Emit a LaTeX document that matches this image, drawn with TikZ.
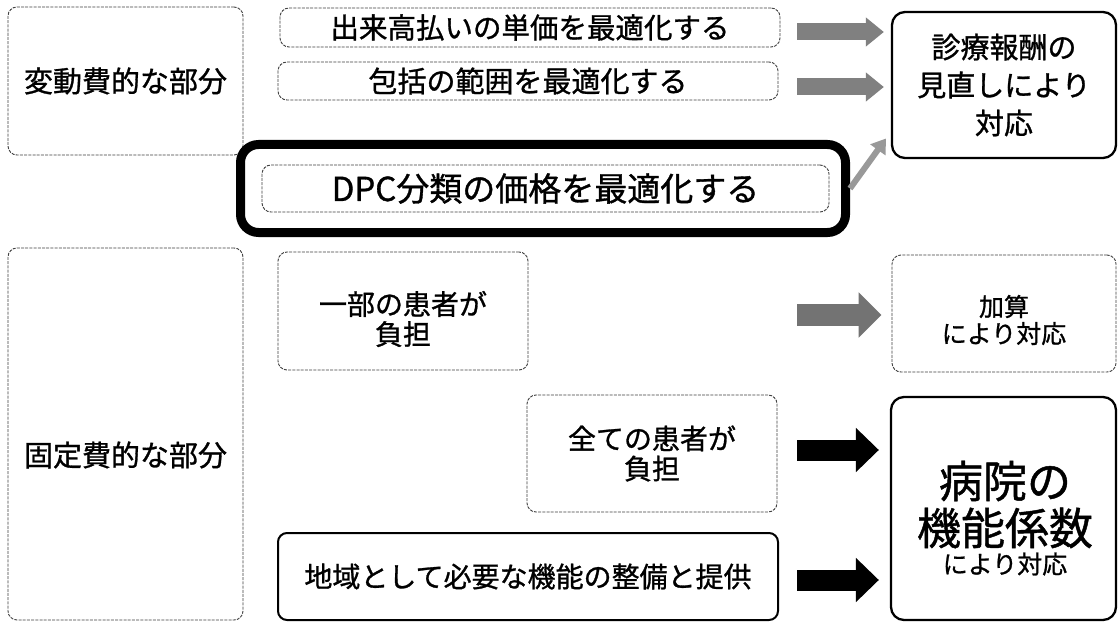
\documentclass[tikz,border=0pt]{standalone}
\usepackage{fontspec}
\setmainfont{Noto Sans CJK JP}[FakeBold=1]
\usetikzlibrary{arrows.meta}
\newcommand\fsz[2]{\fontsize{#1}{#2}\selectfont}
\begin{document}
\begin{tikzpicture}[x=1pt,y=-1pt,
  dbox/.style={draw=black!75, line width=0.9pt, dash pattern=on 3pt off 1.2pt, rounded corners=9pt, inner sep=0pt, align=center},
  sbox/.style={draw=black, line width=2.3pt, rounded corners=13pt, inner sep=0pt, align=center},
  thickbox/.style={draw=black, line width=9pt, rounded corners=18pt, inner sep=0pt},
  lbl/.style={inner sep=0pt, align=center},
  garrow/.style={draw=black!50, line width=17pt, -{Triangle[length=18pt,width=28pt]}},
  marrow/.style={draw=black!55, line width=22pt, -{Triangle[length=23pt,width=44pt]}},
  karrow/.style={draw=black, line width=21pt, -{Triangle[length=23pt,width=43pt]}},
  darrow/.style={draw=black!40, line width=6pt, -{Triangle[length=14pt,width=18pt]}}
]
\useasboundingbox[fill=white] (0,0) rectangle (1119,623);

% left category boxes
\node[dbox, minimum width=235pt, minimum height=148pt, font=\fsz{29}{34}] (A) at (125.5,81) {変動費的な部分};
\node[dbox, minimum width=235pt, minimum height=372pt] (F) at (125.5,434) {};
\node[lbl, font=\fsz{29}{34}] (Ft) at (125.5,455) {固定費的な部分};

% top items
\node[dbox, minimum width=500pt, minimum height=39pt, font=\fsz{28.5}{32}] (B) at (530,27.5) {出来高払いの単価を最適化する};
\node[dbox, minimum width=500pt, minimum height=38pt, font=\fsz{29}{32}] (C) at (528,81) {包括の範囲を最適化する};
\node[thickbox, minimum width=605pt, minimum height=88pt] (D) at (543,188.5) {};
\node[dbox, minimum width=567pt, minimum height=47pt, font=\fsz{33}{36}] (DI) at (545.5,188.5) {DPC分類の価格を最適化する};

% right result boxes
\node[sbox, minimum width=224pt, minimum height=146pt, font=\fsz{29}{38}] (E) at (1004,85) {診療報酬の\\見直しにより\\対応};
\node[dbox, minimum width=224pt, minimum height=117pt] (H) at (1004,313.5) {};
\node[lbl, font=\fsz{25}{27}] (Ht) at (1004,320) {加算\\により対応};
\node[sbox, minimum width=225pt, minimum height=223pt] (J) at (1003.5,508.5) {};
\node[lbl, font=\fsz{44}{48}] (J1) at (1005,481) {病院の};
\node[lbl, font=\fsz{44}{48}] (J2) at (1005,528) {機能係数};
\node[lbl, font=\fsz{25}{28}] (J3) at (1005,564) {により対応};

% fixed-cost items
\node[dbox, minimum width=250pt, minimum height=118pt] (G) at (403,311) {};
\node[lbl, font=\fsz{28}{30}] (Gt) at (403,319) {一部の患者が\\負担};
\node[dbox, minimum width=250pt, minimum height=117pt, font=\fsz{28}{30}] (I) at (652,453.5) {全ての患者が\\負担};
\node[sbox, line width=2pt, rounded corners=9pt, minimum width=500pt, minimum height=87pt, font=\fsz{28}{32}] (K) at (528,576.5) {地域として必要な機能の整備と提供};

% arrows
\coordinate (a1) at (797,32);
\coordinate (a2) at (797,87);
\coordinate (a4) at (797,315);
\coordinate (a5) at (797,450);
\coordinate (a6) at (797,580);
\draw[garrow, shorten >=7pt] (a1) -- (a1 -| E.west);
\draw[garrow, shorten >=7pt] (a2) -- (a2 -| E.west);
\draw[darrow] (D.east) -- ++(36,-50);
\draw[marrow, shorten >=10pt] (a4) -- (a4 -| H.west);
\draw[karrow, shorten >=11pt] (a5) -- (a5 -| J.west);
\draw[karrow, shorten >=11pt] (a6) -- (a6 -| J.west);
\end{tikzpicture}
\end{document}
